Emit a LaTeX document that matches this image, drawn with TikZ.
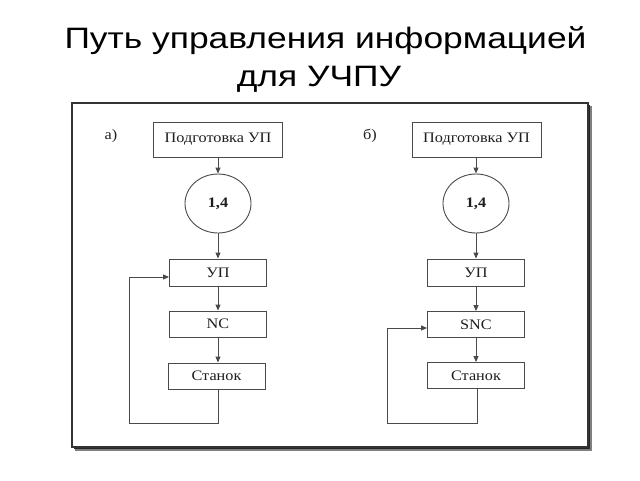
\documentclass[tikz,border=0pt]{standalone}
\usepackage{fontspec}
\setmainfont{Liberation Serif}
\newfontfamily\titlefont{Liberation Sans}
\usetikzlibrary{arrows.meta,shapes.geometric,calc}
\definecolor{ln}{HTML}{4A4A4A}
\definecolor{tx}{HTML}{1E1E1E}
\newcommand{\wx}[1]{\scalebox{1.12}[1]{#1}}
\newcommand{\wt}[1]{\scalebox{1.2}[1]{#1}}
\tikzset{
  box/.style={draw=ln, line width=0.9pt, rectangle, minimum width=97pt, minimum height=26pt, inner sep=0pt, text=tx, font=\fontsize{14.5}{17}\selectfont},
  bigbox/.style={box, minimum width=129pt, minimum height=35pt},
  circ/.style={draw=ln, line width=0.9pt, ellipse, minimum width=66pt, minimum height=59pt, inner sep=0pt, text=tx, font=\fontsize{14.5}{17}\selectfont\bfseries},
  arr/.style={draw=ln, line width=0.9pt, -{Triangle[length=6pt,width=5pt]}},
  lbl/.style={text=tx, font=\fontsize{14.5}{17}\selectfont, inner sep=0pt},
  ttl/.style={anchor=base, inner sep=0pt, text=black, font=\titlefont\fontsize{29.5}{34}\selectfont}
}
\begin{document}
\begin{tikzpicture}[x=1pt,y=-1pt]
\useasboundingbox (0,0) rectangle (640,480);
\fill[white] (0,0) rectangle (640,480);
% title
\node[ttl] (t1) at (325.5,48) {\wt{Путь управления информацией}};
\node[ttl] (t2) at (319,86) {\wt{для УЧПУ}};
% frame with shadow
\fill[black!50] (75,447) rectangle (591.5,450.5);
\fill[black!50] (588,106) rectangle (591.5,450.5);
\fill[black!85] (74,446.5) rectangle (590,448.8);
\fill[black!85] (587.5,105) rectangle (590,448.8);
\draw[black!80, line width=1.2pt] (72,103) rectangle (588,447);
% left diagram
\node[lbl] (la) at (111,136) {\wx{а)}};
\node[bigbox] (prepA) at (218,139.5) {\wx{Подготовка УП}};
\node[circ] (circA) at (218,203.5) {\wx{1,4}};
\node[box, minimum height=27pt] (upA) at (218,272.5) {\wx{УП}};
\node[box] (ncA) at (218,324) {\wx{NC}};
\node[box] (stA) at (216.5,376) {\wx{Станок}};
\draw[arr] (prepA) -- (circA);
\draw[arr] (circA) -- (upA);
\draw[arr] (ncA.south -| stA.north) ++(1.5,0) coordinate (ncAs) -- (ncAs |- stA.north);
\draw[arr] (upA) -- (ncA);
\coordinate (fa1) at (218,423);
\coordinate (fa2) at (129,423);
\coordinate (fa3) at (129,277);
\draw[arr] (stA.south -| fa1) -- (fa1) -- (fa2) -- (fa3) -- (fa3 -| upA.west);
% right diagram
\node[lbl] (lb) at (370,136) {\wx{б)}};
\node[bigbox] (prepB) at (476.5,139.5) {\wx{Подготовка УП}};
\node[circ] (circB) at (476,203.5) {\wx{1,4}};
\node[box, minimum height=27pt] (upB) at (476,272.5) {\wx{УП}};
\node[box] (sncB) at (476,324.5) {\wx{SNC}};
\node[box] (stB) at (476,375.5) {\wx{Станок}};
\draw[arr] (prepB.south -| circB.north) -- (circB.north);
\draw[arr] (circB) -- (upB);
\draw[arr] (upB) -- (sncB);
\draw[arr] (sncB) -- (stB);
\coordinate (fb1) at (477,423);
\coordinate (fb2) at (387,423);
\coordinate (fb3) at (387,328);
\draw[arr] (stB.south -| fb1) -- (fb1) -- (fb2) -- (fb3) -- (fb3 -| sncB.west);
\end{tikzpicture}
\end{document}
